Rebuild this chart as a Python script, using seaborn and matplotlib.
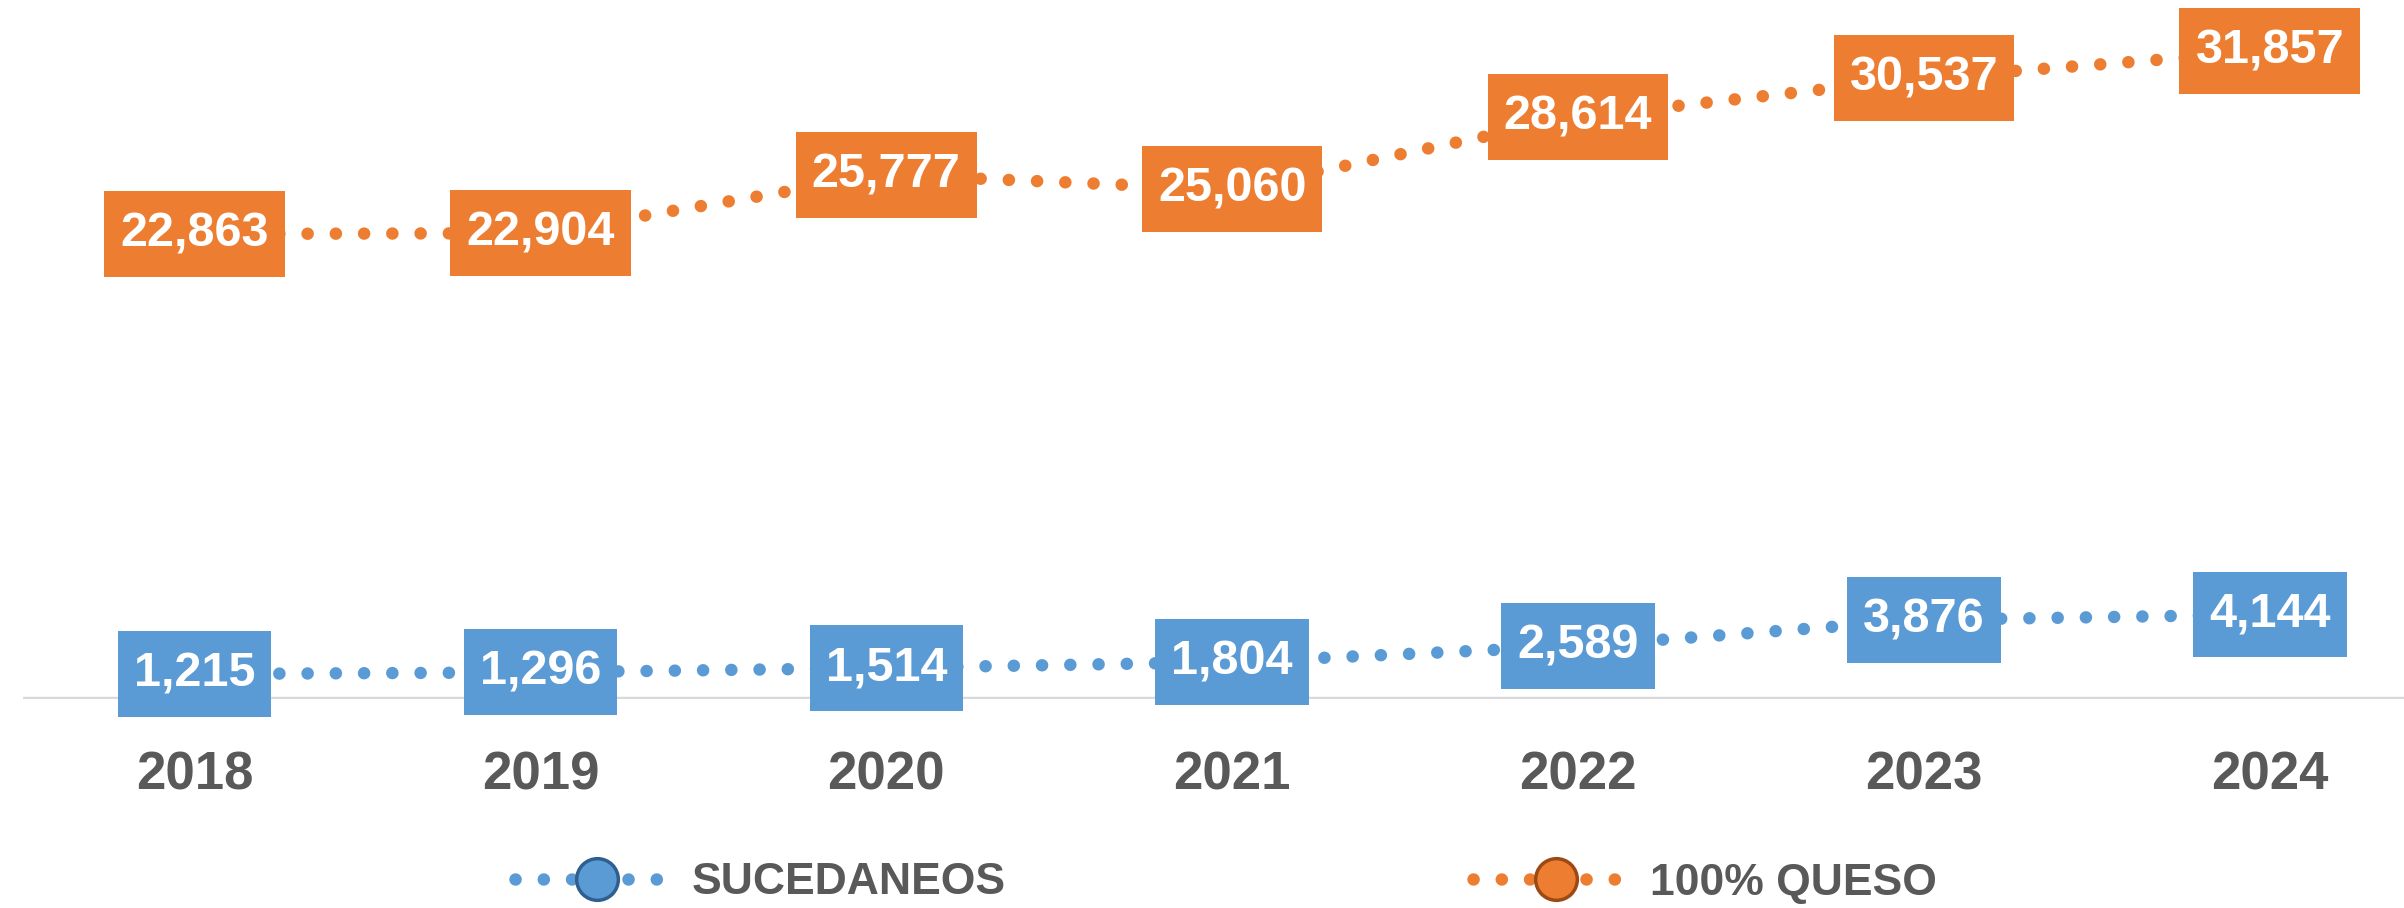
# plot.py
# Sucedaneos vs 100% queso, 2018-2024 (dotted lines with boxed value labels)

import matplotlib

matplotlib.use("Agg")
import matplotlib.pyplot as plt
from matplotlib.lines import Line2D
from matplotlib.path import Path
import seaborn as sns

# =========================
# Data
# =========================
years = ["2018", "2019", "2020", "2021", "2022", "2023", "2024"]
sucedaneos = [1215, 1296, 1514, 1804, 2589, 3876, 4144]
queso = [22863, 22904, 25777, 25060, 28614, 30537, 31857]
series_names = ["SUCEDANEOS", "100% QUESO"]

# =========================
# Style
# =========================
BLUE = "#5B9BD5"
ORANGE = "#ED7D31"
GRAY_TEXT = "#595959"
AXIS_GRAY = "#D9D9D9"
DOTS = (0, (0.01, 2.25))  # round dots, spacing in linewidths


def label_box(x0, y0, width, height, mutation_size):
    """Square box with more padding top/bottom than left/right."""
    px = 0.33 * mutation_size
    py = 0.42 * mutation_size
    x0, y0 = x0 - px, y0 - py
    x1, y1 = x0 + width + 2 * px, y0 + height + 2 * py
    return Path([(x0, y0), (x1, y0), (x1, y1), (x0, y1), (x0, y0)], closed=True)


sns.set_style("white")
plt.rcParams["font.family"] = ["Liberation Sans", "DejaVu Sans"]

fig = plt.figure(figsize=(24.04, 9.08), dpi=100)
ax = fig.add_axes([23 / 2404, 209.3 / 908, 1 - 23 / 2404, 698.7 / 908])

x = list(range(len(years)))

# --- dotted lines ---
for vals, color in [(sucedaneos, BLUE), (queso, ORANGE)]:
    sns.lineplot(
        x=x,
        y=vals,
        ax=ax,
        color=color,
        linewidth=9,
        linestyle=DOTS,
        dash_capstyle="round",
        zorder=2,
    )

# --- value labels in filled boxes ---
for vals, color in [(sucedaneos, BLUE), (queso, ORANGE)]:
    for xi, v in zip(x, vals):
        ax.text(
            xi,
            v,
            f"{v:,}",
            ha="center",
            va="center",
            fontsize=35,
            fontweight="bold",
            color="white",
            zorder=4,
            bbox=dict(boxstyle=label_box, facecolor=color, edgecolor="none"),
        )

# --- baseline ---
ax.axhline(0, color=AXIS_GRAY, linewidth=3.2, zorder=1)

ax.set_xlim(-0.496, 6.388)
ax.set_ylim(0, 34376)
ax.set_xticks(x)
ax.set_xticklabels(years, fontsize=38, fontweight="bold", color=GRAY_TEXT)
ax.tick_params(axis="x", length=0, pad=37)
ax.set_yticks([])
ax.set_xlabel("")
ax.set_ylabel("")
sns.despine(ax=ax, left=True, bottom=True)

# --- legend ---
handles = [
    Line2D(
        [0], [0],
        color=c,
        linewidth=9,
        linestyle=DOTS,
        dash_capstyle="round",
        marker="o",
        markersize=30,
        markerfacecolor=c,
        markeredgecolor=edge,
        markeredgewidth=2.5,
    )
    for c, edge in [(BLUE, "#2F5F8F"), (ORANGE, "#9C4A14")]
]
leg = fig.legend(
    handles,
    series_names,
    loc="center",
    bbox_to_anchor=(1226 / 2404, 1 - 883 / 908),
    ncol=2,
    frameon=False,
    prop={"family": "Liberation Sans", "weight": "bold", "size": 32},
    handlelength=3.72,
    handletextpad=0.27,
    columnspacing=10.5,
)
for t in leg.get_texts():
    t.set_color(GRAY_TEXT)

plt.savefig("out.png", dpi=100)
